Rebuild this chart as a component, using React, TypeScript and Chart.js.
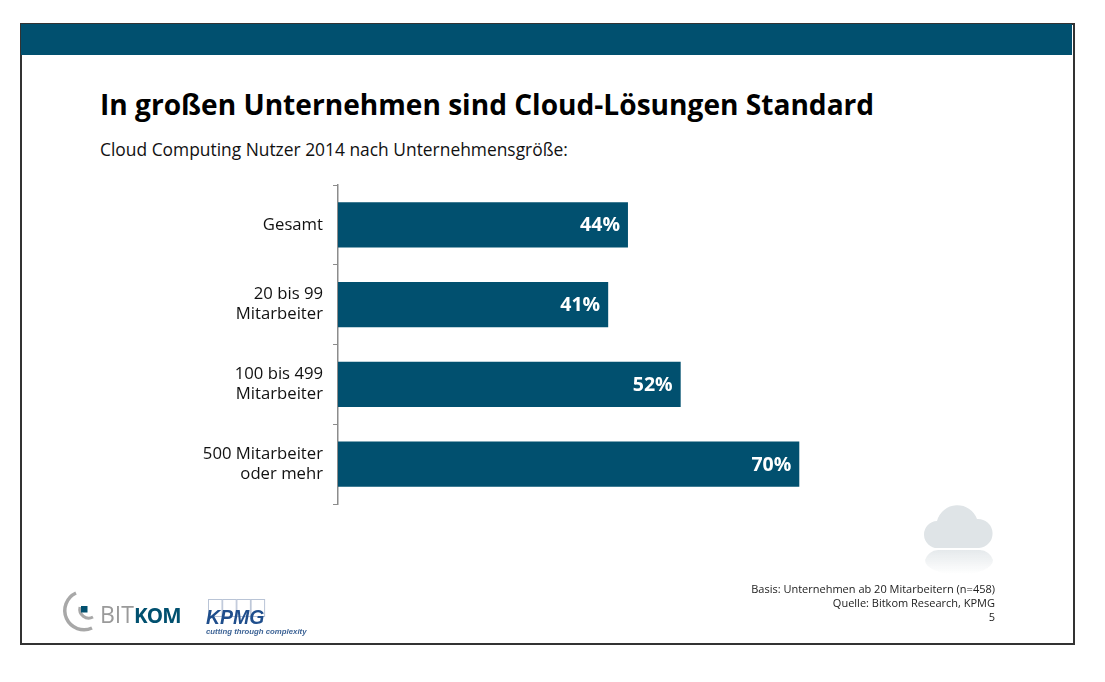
import React, { useEffect, useRef } from "react";
import { Chart, registerables } from "chart.js";

Chart.register(...registerables);

const categories: (string | string[])[] = [
  "Gesamt",
  ["20 bis 99", "Mitarbeiter"],
  ["100 bis 499", "Mitarbeiter"],
  ["500 Mitarbeiter", "oder mehr"],
];
const shares = [44, 41, 52, 70];
const titleText = "In großen Unternehmen sind Cloud-Lösungen Standard";
const subtitleText = "Cloud Computing Nutzer 2014 nach Unternehmensgröße:";
const footnotes = ["Basis:  Unternehmen ab 20 Mitarbeitern (n=458)", "Quelle: Bitkom Research, KPMG", "5"];

const BLUE = "#01506f";
const FONT = '"Open Sans", sans-serif';

const valueLabels = {
  id: "valueLabels",
  afterDatasetsDraw(chart: any) {
    const { ctx } = chart;
    ctx.save();
    ctx.fillStyle = "#fff";
    ctx.font = `bold 19.5px ${FONT}`;
    ctx.textAlign = "right";
    ctx.textBaseline = "middle";
    chart.getDatasetMeta(0).data.forEach((bar: any, i: number) => {
      ctx.fillText(`${shares[i]}%`, bar.x - 8, bar.y + 1);
    });
    ctx.restore();
  },
};

export default function App() {
  const ref = useRef<HTMLCanvasElement>(null);
  useEffect(() => {
    const chart = new Chart(ref.current!, {
      type: "bar",
      data: {
        labels: categories as any,
        datasets: [{ data: shares, backgroundColor: BLUE, categoryPercentage: 1, barPercentage: 0.57 }],
      },
      options: {
        indexAxis: "y",
        animation: false,
        responsive: false,
        layout: { padding: { left: 0, right: 108, top: 185, bottom: 178 } },
        plugins: { legend: { display: false }, tooltip: { enabled: false } },
        scales: {
          x: { display: false, min: 0, max: 100 },
          y: {
            afterFit: (s: any) => { s.width = 338; },
            border: { display: true, color: "#8c8c8c", width: 1.5 },
            grid: { drawOnChartArea: false, drawTicks: true, tickLength: 5, color: "#8c8c8c" },
            ticks: { color: "#111", font: { family: FONT, size: 16.7, lineHeight: 1.2 }, padding: 10 },
          },
        },
      },
      plugins: [valueLabels],
    });
    return () => chart.destroy();
  }, []);

  return (
    <div style={{ position: "absolute", left: 0, top: 0, width: 1105, height: 682, background: "#fff", overflow: "hidden", fontFamily: FONT }}>
      <div style={{ position: "absolute", left: 20, top: 23, width: 1051, height: 618, border: "2px solid #333" }} />
      <div style={{ position: "absolute", left: 21, top: 24, width: 1051, height: 31, background: BLUE }} />
      <div style={{ position: "absolute", left: 100, top: 84, fontSize: 28.1, fontWeight: 700, color: "#000", whiteSpace: "nowrap", lineHeight: "40px" }}>{titleText}</div>
      <div style={{ position: "absolute", left: 100, top: 137, fontSize: 17.4, color: "#111", whiteSpace: "nowrap", lineHeight: "24px" }}>{subtitleText}</div>
      <canvas ref={ref} width={1105} height={682} style={{ position: "absolute", left: 0, top: 0 }} />
      <svg width={1105} height={682} style={{ position: "absolute", left: 0, top: 0 }}>
        <defs>
          <linearGradient id="fade" x1="0" y1="0" x2="0" y2="1">
            <stop offset="0" stopColor="#dfe4e7" stopOpacity="0.8" />
            <stop offset="1" stopColor="#dfe4e7" stopOpacity="0" />
          </linearGradient>
        </defs>
        <path d="M938 548 a13.5 13.5 0 0 1 -1 -27 a21 21 0 0 1 40 -2 a14.5 14.5 0 0 1 2 29 z" fill="#dfe4e7" />
        <path d="M938 550 h42 a14 14 0 0 1 13 10 a30 14 0 0 1 -34 14 a30 14 0 0 1 -34 -14 a14 14 0 0 1 13 -10 z" fill="url(#fade)" />
        <path d="M76 593 A19 19 0 0 0 92 628" fill="none" stroke="#a8a8a8" strokeWidth="3.5" />
        <path d="M80 607 A9 9 0 0 0 93 617" fill="none" stroke="#a8a8a8" strokeWidth="3" />
        <rect x="81" y="606" width="6.5" height="6.5" fill={BLUE} />
        <text x="100" y="623" fontSize="23" fontFamily={FONT} fontWeight="500" fill="#9a9a9a">BIT<tspan fill={BLUE} fontWeight="700" fontSize="20.5" letterSpacing="-0.8">KOM</tspan></text>
        {[0, 1, 2, 3].map((i) => (
          <rect key={i} x={208.5 + i * 14.2} y={599.5} width={13.5} height={17} fill="#fff" stroke="#b9c4d6" />
        ))}
        <text x="206" y="624" fontSize="19.5" fontWeight="700" fontStyle="italic" fontFamily='"Liberation Sans", sans-serif' fill="#1f4e8c">KPMG</text>
        <text x="206" y="634" fontSize="7.8" fontWeight="700" fontStyle="italic" fontFamily='"Liberation Sans", sans-serif' fill="#3e6496">cutting through complexity</text>
        {footnotes.map((line, i) => (
          <text key={i} x="995" y={593 + i * 14} textAnchor="end" fontSize="11" fontFamily={FONT} fill="#222">{line}</text>
        ))}
      </svg>
    </div>
  );
}
